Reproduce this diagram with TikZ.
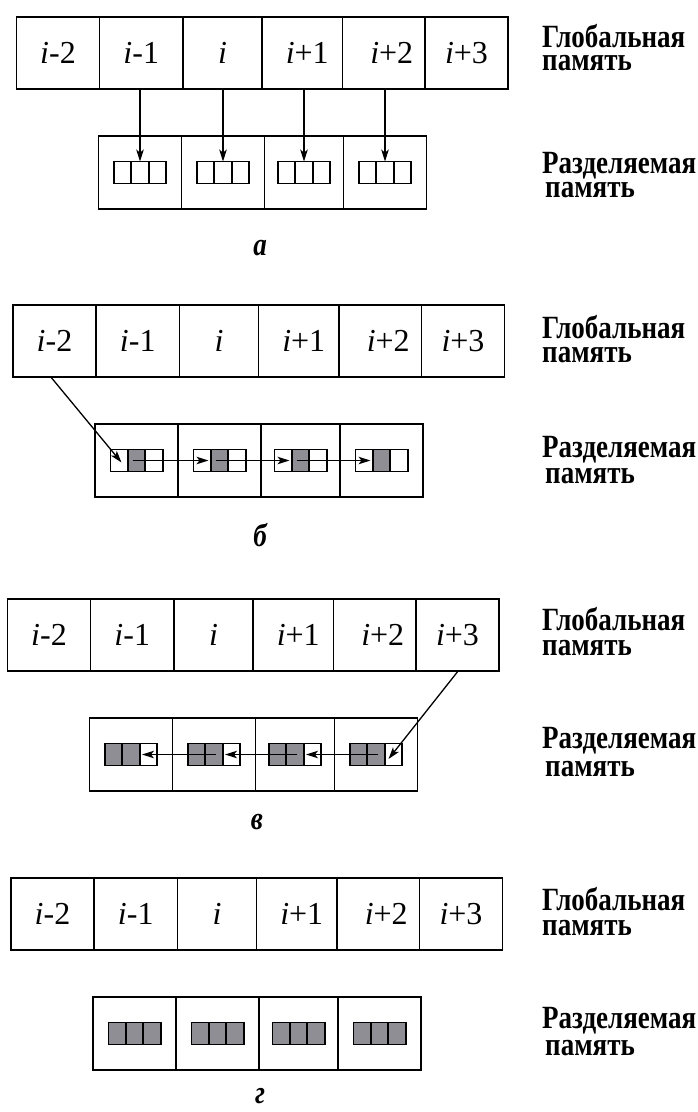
\documentclass[tikz,border=0pt]{standalone}
\usepackage{fontspec}
\setmainfont{Liberation Serif}
\usetikzlibrary{arrows.meta,calc}
\definecolor{cellgray}{RGB}{142,142,148}
\tikzset{
  gcell/.style={draw, line width=1.6pt, minimum height=72pt, inner sep=0pt,
    font=\fontsize{32}{36}\selectfont},
  scell/.style={draw, line width=1.6pt, minimum height=73pt, inner sep=0pt},
  sbox/.style={minimum width=52pt, minimum height=21.5pt, inner sep=0pt},
  sline/.style={line width=1.6pt},
  arr/.style={line width=1.3pt, -{Stealth[length=12pt,width=7.5pt,inset=3pt]}},
  lbl/.style={anchor=base west, inner sep=0pt, font=\fontsize{27}{30}\selectfont\bfseries},
  pcap/.style={anchor=base, inner sep=0pt, font=\fontsize{27}{30}\selectfont\bfseries\itshape}
}
\newcommand\drawpanel[3]{%
  \foreach \n/\l/\r/\t/\s in {1/0/83/{{\itshape i}-2}/0, 2/83/166.5/{{\itshape i}-1}/0,
      3/166.5/245.5/{{\itshape i}}/0, 4/245.5/326/{{\itshape i}+1}/10,
      5/326/408.5/{{\itshape i}+2}/16, 6/408.5/491.5/{{\itshape i}+3}/0} {
    \pgfmathsetmacro\w{\r-\l}
    \node[gcell, minimum width=\w pt] (#1G\n) at ({#2+(\l+\r)/2}, {#3+36}) {\hspace*{\s pt}\t};
  }
  \foreach \n/\l/\r in {1/82/165, 2/165/248, 3/248/327, 4/327/410} {
    \pgfmathsetmacro\w{\r-\l}
    \node[scell, minimum width=\w pt] (#1S\n) at ({#2+(\l+\r)/2}, {#3+155.5}) {};
    \node[sbox] (#1B\n) at (#1S\n.center) {};
  }
}
\newcommand\fillsub[2]{%
  \fill[cellgray] ($(#1.north west)!{(#2-1)/3}!(#1.north east)$) rectangle ($(#1.south west)!{#2/3}!(#1.south east)$);
}
\newcommand\boxlines[1]{%
  \draw[sline] (#1.north west) rectangle (#1.south east)
    ($(#1.north west)!1/3!(#1.north east)$) -- ($(#1.south west)!1/3!(#1.south east)$)
    ($(#1.north west)!2/3!(#1.north east)$) -- ($(#1.south west)!2/3!(#1.south east)$);
}
\newcommand\vs[1]{\scalebox{1}[1.2]{#1}}
\newcommand\labels[5]{%
  \node[lbl] (#1L1) at (542,#2) {\vs{Глобальная}};
  \node[lbl] (#1L2) at (542,#3) {\vs{память}};
  \node[lbl] (#1L3) at (542,#4) {\vs{Разделяемая}};
  \node[lbl] (#1L4) at (545,#5) {\vs{память}};
}
\begin{document}
\begin{tikzpicture}[x=1pt,y=-1pt]
\useasboundingbox (0,0) rectangle (698,1112);
\fill[white] (0,0) rectangle (698,1112);

% ---------- panel a ----------
\drawpanel{a}{16.5}{17}
\foreach \k in {1,2,3,4} {\boxlines{aB\k}}
\draw[arr] (aB1.north |- aG2.south) -- (aB1.north);
\draw[arr] (aB2.north |- aG3.south) -- (aB2.north);
\draw[arr] (aB3.north |- aG4.south) -- (aB3.north);
\draw[arr] (aB4.north |- aG5.south) -- (aB4.north);
\labels{a}{47}{70}{173}{197}
\node[pcap] (aC) at (260,255) {\vs{а}};

% ---------- panel b ----------
\drawpanel{b}{13}{305}
\foreach \k in {1,2,3,4} {\fillsub{bB\k}{2}\boxlines{bB\k}}
\draw[arr] ([xshift=-3pt]bG1.south) -- ([xshift=-15pt,yshift=-2pt]bB1.center);
\draw[arr] ([xshift=-4pt]bB1.center) -- ([xshift=-11pt]bB2.center);
\draw[arr] ([xshift=-4pt]bB2.center) -- ([xshift=-11pt]bB3.center);
\draw[arr] ([xshift=-4pt]bB3.center) -- ([xshift=-11pt]bB4.center);
\labels{b}{338}{362}{457}{483}
\node[pcap] (bC) at (260,546) {\vs{б}};

% ---------- panel c ----------
\drawpanel{c}{7.5}{599}
\foreach \k in {1,2,3,4} {\fillsub{cB\k}{1}\fillsub{cB\k}{2}\boxlines{cB\k}}
\draw[arr] (cG6.south) -- ([xshift=12.5pt,yshift=-4.5pt]cB4.center);
\draw[arr] ([xshift=2pt]cB4.center) -- ([xshift=11pt]cB3.center);
\draw[arr] ([xshift=2pt]cB3.center) -- ([xshift=11pt]cB2.center);
\draw[arr] ([xshift=2pt]cB2.center) -- ([xshift=11pt]cB1.center);
\labels{c}{630}{655}{748}{776}
\node[pcap] (cC) at (257,829) {\vs{в}};

% ---------- panel d ----------
\drawpanel{d}{11}{878}
\foreach \k in {1,2,3,4} {\fillsub{dB\k}{1}\fillsub{dB\k}{2}\fillsub{dB\k}{3}\boxlines{dB\k}}
\labels{d}{910}{935}{1028}{1055}
\node[pcap] (dC) at (260,1103) {\vs{г}};
\end{tikzpicture}
\end{document}
